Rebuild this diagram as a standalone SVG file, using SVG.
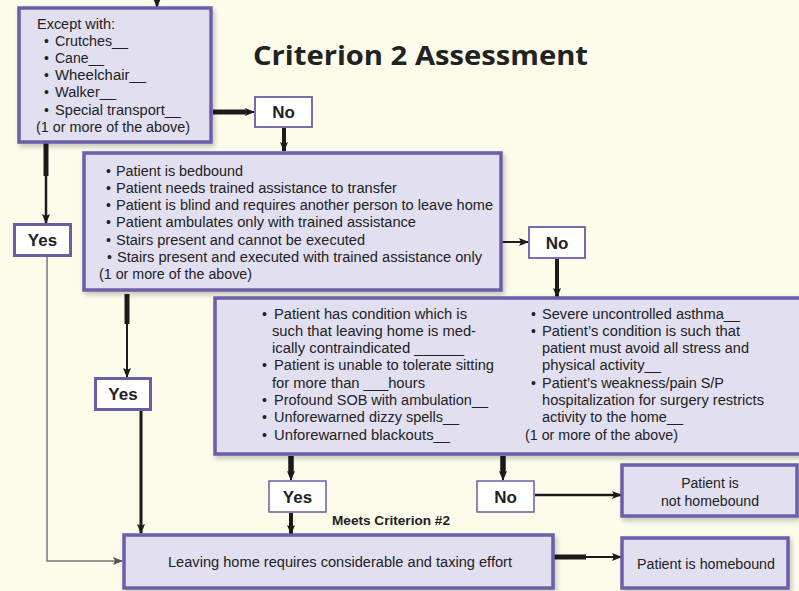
<svg xmlns="http://www.w3.org/2000/svg" width="799" height="591" viewBox="0 0 799 591">
<defs>
<marker id="ah" markerUnits="userSpaceOnUse" markerWidth="10" markerHeight="8" refX="9" refY="4" orient="auto">
<path d="M0,0 L10,4 L0,8 L2,4 Z" fill="#1a1a1a"/>
</marker>
<marker id="ahg" markerUnits="userSpaceOnUse" markerWidth="10" markerHeight="8" refX="9" refY="4" orient="auto">
<path d="M0,0 L10,4 L0,8 L2,4 Z" fill="#555"/>
</marker>
<filter id="sh" x="-5%" y="-5%" width="115%" height="125%">
<feDropShadow dx="2" dy="3" stdDeviation="2.5" flood-color="#000" flood-opacity="0.22"/>
</filter>
</defs>
<style>
.box{fill:#e1dff0;stroke:#6a5ea8;stroke-width:3.5;filter:url(#sh)}
.lbl{fill:#ffffff;stroke:#6a5ea8}
.thick{stroke-width:3}
.thin{stroke-width:1.6}
.t{font-family:"Liberation Sans",Arial,sans-serif;font-size:14px;fill:#222}
.b{font-family:"Liberation Sans",Arial,sans-serif;font-size:17px;font-weight:bold;fill:#222;text-anchor:middle}
.c{text-anchor:middle}
.ln{stroke:#1a1a1a;fill:none}
</style>
<rect width="799" height="591" fill="#fdfbea"/>
<text x="253" y="65" textLength="335" lengthAdjust="spacingAndGlyphs" style="font-family:'Open Sans','DejaVu Sans',sans-serif;font-size:27px;font-weight:bold;fill:#222">Criterion 2 Assessment</text>

<g id="connectors">
<line class="ln" x1="157" y1="0" x2="157" y2="7" stroke-width="2.5" marker-end="url(#ah)"/>
<line class="ln" x1="213" y1="112" x2="246" y2="112" stroke-width="5"/>
<line class="ln" x1="240" y1="112" x2="254" y2="112" stroke-width="2" marker-end="url(#ah)"/>
<line class="ln" x1="284" y1="128" x2="284" y2="151" stroke-width="4" marker-end="url(#ah)"/>
<line class="ln" x1="46" y1="143" x2="46" y2="176" stroke-width="5"/>
<line class="ln" x1="46" y1="170" x2="46" y2="223" stroke-width="2.5" marker-end="url(#ah)"/>
<polyline points="47,257 47,561 122,561" fill="none" stroke="#777" stroke-width="1.5" marker-end="url(#ahg)"/>
<line class="ln" x1="502" y1="242" x2="528" y2="242" stroke-width="2" marker-end="url(#ah)"/>
<line class="ln" x1="557" y1="259" x2="557" y2="297" stroke-width="4" marker-end="url(#ah)"/>
<line class="ln" x1="127" y1="294" x2="127" y2="324" stroke-width="5"/>
<line class="ln" x1="127" y1="320" x2="127" y2="377" stroke-width="2" marker-end="url(#ah)"/>
<line class="ln" x1="141" y1="411" x2="141" y2="533" stroke-width="3" marker-end="url(#ah)"/>
<line class="ln" x1="291" y1="456" x2="291" y2="474" stroke-width="5.5"/>
<line class="ln" x1="291" y1="470" x2="291" y2="480" stroke-width="2" marker-end="url(#ah)"/>
<line class="ln" x1="503" y1="456" x2="503" y2="474" stroke-width="5.5"/>
<line class="ln" x1="503" y1="470" x2="503" y2="480" stroke-width="2" marker-end="url(#ah)"/>
<line class="ln" x1="291" y1="513" x2="291" y2="534" stroke-width="4" marker-end="url(#ah)"/>
<line class="ln" x1="535" y1="495" x2="621" y2="495" stroke-width="2.5" marker-end="url(#ah)"/>
<line class="ln" x1="554" y1="557" x2="586" y2="557" stroke-width="5"/>
<line class="ln" x1="584" y1="557" x2="621" y2="557" stroke-width="2" marker-end="url(#ah)"/>
</g>

<g id="except-box">
<rect class="box" x="19" y="8" width="192" height="134"/>
<text class="t" x="37" y="29" textLength="78" lengthAdjust="spacingAndGlyphs">Except with:</text>
<text class="t" x="44" y="46.1">•</text><text class="t" x="55" y="46.1" textLength="73" lengthAdjust="spacingAndGlyphs">Crutches__</text>
<text class="t" x="44" y="63.2">•</text><text class="t" x="55" y="63.2" textLength="49" lengthAdjust="spacingAndGlyphs">Cane__</text>
<text class="t" x="44" y="80.3">•</text><text class="t" x="55" y="80.3" textLength="91" lengthAdjust="spacingAndGlyphs">Wheelchair__</text>
<text class="t" x="44" y="97.4">•</text><text class="t" x="55" y="97.4" textLength="61" lengthAdjust="spacingAndGlyphs">Walker__</text>
<text class="t" x="44" y="114.5">•</text><text class="t" x="55" y="114.5" textLength="126" lengthAdjust="spacingAndGlyphs">Special transport__</text>
<text class="t" x="36" y="131.6" textLength="154" lengthAdjust="spacingAndGlyphs">(1 or more of the above)</text>
</g>

<g id="no-1">
<rect class="lbl" x="255" y="97" width="57" height="30" stroke-width="1.8"/>
<text class="b" x="283.5" y="118">No</text>
</g>

<g id="yes-1">
<rect class="lbl" x="14.5" y="224.5" width="56" height="31" stroke-width="3"/>
<text class="b" x="42.5" y="246">Yes</text>
</g>

<g id="mobility-box">
<rect class="box" x="84" y="153" width="417" height="137"/>
<text class="t" x="106" y="175.5">•</text><text class="t" x="116" y="175.5" textLength="127" lengthAdjust="spacingAndGlyphs">Patient is bedbound</text>
<text class="t" x="106" y="192.8">•</text><text class="t" x="116" y="192.8" textLength="281" lengthAdjust="spacingAndGlyphs">Patient needs trained assistance to transfer</text>
<text class="t" x="106" y="210.1">•</text><text class="t" x="116" y="210.1" textLength="377" lengthAdjust="spacingAndGlyphs">Patient is blind and requires another person to leave home</text>
<text class="t" x="106" y="227.4">•</text><text class="t" x="116" y="227.4" textLength="300" lengthAdjust="spacingAndGlyphs">Patient ambulates only with trained assistance</text>
<text class="t" x="106" y="244.7">•</text><text class="t" x="116" y="244.7" textLength="249" lengthAdjust="spacingAndGlyphs">Stairs present and cannot be executed</text>
<text class="t" x="107" y="262">•</text><text class="t" x="117" y="262" textLength="365" lengthAdjust="spacingAndGlyphs">Stairs present and executed with trained assistance only</text>
<text class="t" x="99" y="279.3" textLength="153" lengthAdjust="spacingAndGlyphs">(1 or more of the above)</text>
</g>

<g id="no-2">
<rect class="lbl" x="529" y="227" width="56" height="31" stroke-width="1.8"/>
<text class="b" x="557" y="248.5">No</text>
</g>

<g id="yes-2">
<rect class="lbl" x="95.5" y="378.5" width="55" height="31" stroke-width="3"/>
<text class="b" x="123" y="400">Yes</text>
</g>

<g id="condition-box">
<rect class="box" x="215" y="298" width="595" height="156"/>
<text class="t" x="262" y="318.5">•</text><text class="t" x="274" y="318.5" textLength="193" lengthAdjust="spacingAndGlyphs">Patient has condition which is</text>
<text class="t" x="272" y="335.8" textLength="204" lengthAdjust="spacingAndGlyphs">such that leaving home is med-</text>
<text class="t" x="272" y="353.1" textLength="192" lengthAdjust="spacingAndGlyphs">ically contraindicated ______</text>
<text class="t" x="262" y="370.4">•</text><text class="t" x="274" y="370.4" textLength="220" lengthAdjust="spacingAndGlyphs">Patient is unable to tolerate sitting</text>
<text class="t" x="272" y="387.7" textLength="153" lengthAdjust="spacingAndGlyphs">for more than ___hours</text>
<text class="t" x="262" y="405">•</text><text class="t" x="274" y="405" textLength="214" lengthAdjust="spacingAndGlyphs">Profound SOB with ambulation__</text>
<text class="t" x="262" y="422.3">•</text><text class="t" x="274" y="422.3" textLength="185" lengthAdjust="spacingAndGlyphs">Unforewarned dizzy spells__</text>
<text class="t" x="262" y="439.6">•</text><text class="t" x="274" y="439.6" textLength="176" lengthAdjust="spacingAndGlyphs">Unforewarned blackouts__</text>
<text class="t" x="531" y="318.5">•</text><text class="t" x="542" y="318.5" textLength="198" lengthAdjust="spacingAndGlyphs">Severe uncontrolled asthma__</text>
<text class="t" x="531" y="335.8">•</text><text class="t" x="542" y="335.8" textLength="198" lengthAdjust="spacingAndGlyphs">Patient’s condition is such that</text>
<text class="t" x="542" y="353.1" textLength="207" lengthAdjust="spacingAndGlyphs">patient must avoid all stress and</text>
<text class="t" x="542" y="370.4" textLength="119" lengthAdjust="spacingAndGlyphs">physical activity__</text>
<text class="t" x="531" y="387.7">•</text><text class="t" x="542" y="387.7" textLength="182" lengthAdjust="spacingAndGlyphs">Patient’s weakness/pain S/P</text>
<text class="t" x="542" y="405" textLength="222" lengthAdjust="spacingAndGlyphs">hospitalization for surgery restricts</text>
<text class="t" x="542" y="422.3" textLength="141" lengthAdjust="spacingAndGlyphs">activity to the home__</text>
<text class="t" x="525" y="439.6" textLength="153" lengthAdjust="spacingAndGlyphs">(1 or more of the above)</text>
</g>

<g id="yes-3">
<rect class="lbl" x="269" y="481" width="57" height="31" stroke-width="1.5"/>
<text class="b" x="297.5" y="502.5">Yes</text>
</g>

<g id="no-3">
<rect class="lbl" x="477" y="481" width="57" height="31" stroke-width="1.5"/>
<text class="b" x="505.5" y="502.5">No</text>
</g>

<text x="332" y="525" textLength="118" lengthAdjust="spacingAndGlyphs" style="font-family:'Liberation Sans',Arial,sans-serif;font-size:13.5px;font-weight:bold;fill:#222">Meets Criterion #2</text>

<g id="not-homebound">
<rect class="box" x="622" y="465" width="175" height="51"/>
<text class="t c" x="710" y="487.5">Patient is</text>
<text class="t c" x="710" y="505.5" textLength="98" lengthAdjust="spacingAndGlyphs">not homebound</text>
</g>

<g id="taxing-effort">
<rect class="box" x="124" y="535" width="429" height="53"/>
<text class="t" x="168" y="567" textLength="344" lengthAdjust="spacingAndGlyphs">Leaving home requires considerable and taxing effort</text>
</g>

<g id="homebound">
<rect class="box" x="622" y="538" width="166" height="50"/>
<text class="t" x="637" y="569" textLength="138" lengthAdjust="spacingAndGlyphs">Patient is homebound</text>
</g>
</svg>
